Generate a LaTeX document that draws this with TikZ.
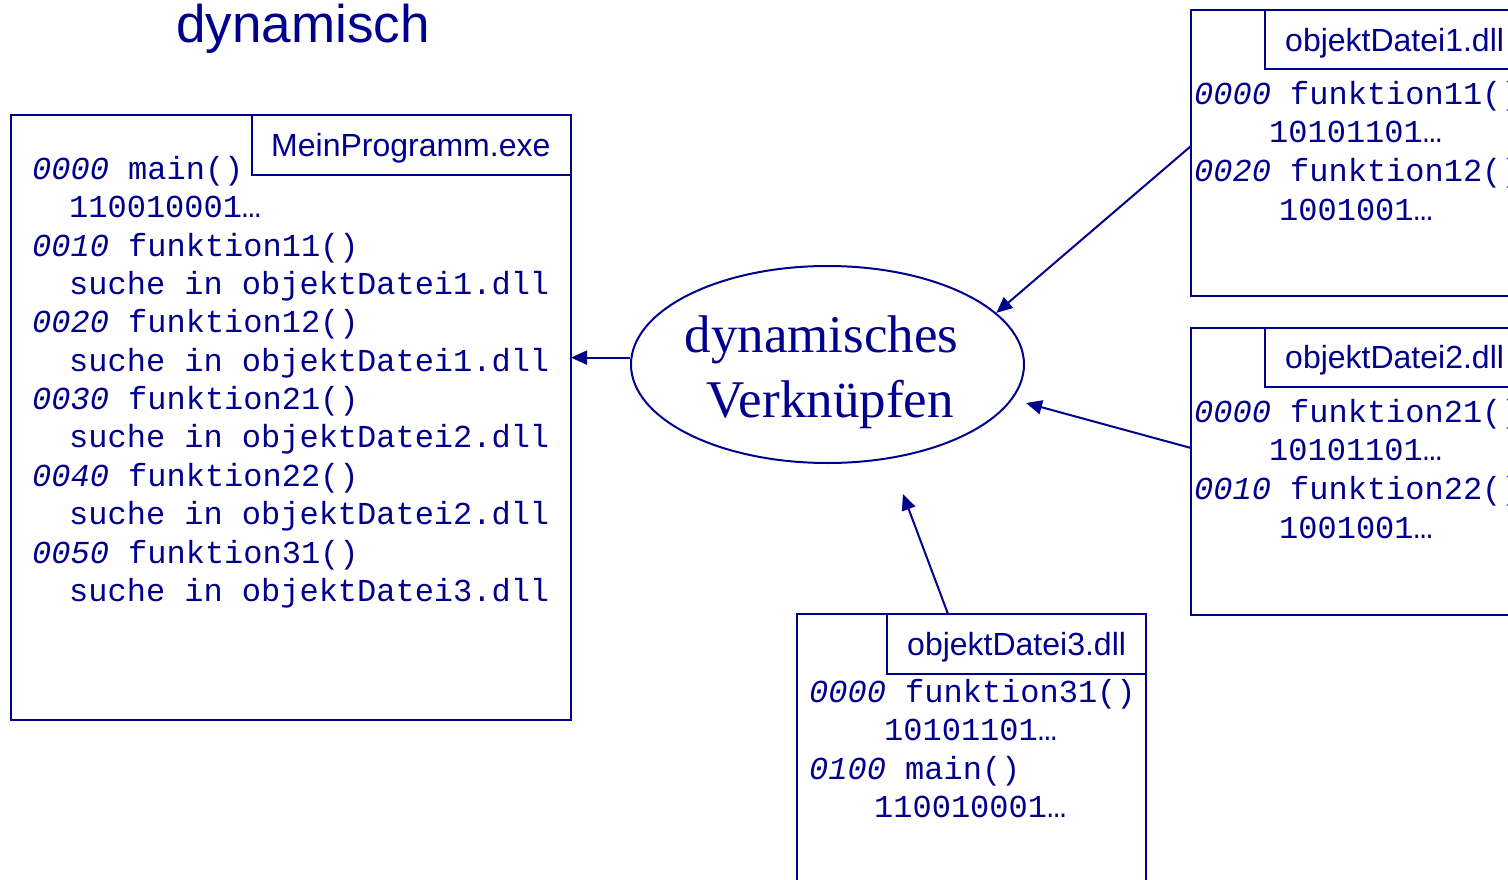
\documentclass[tikz,border=0pt]{standalone}
\usepackage{fontspec}
\setmainfont{Liberation Sans}
\newfontfamily\monof{Liberation Mono}
\newfontfamily\seriff{Liberation Serif}
\usetikzlibrary{arrows.meta,shapes.geometric}
\definecolor{navy}{RGB}{0,0,140}
\tikzset{
  boxn/.style={draw=navy, line width=2pt, rectangle, inner sep=0pt, outer sep=0pt},
  code/.style={anchor=base west, inner sep=0pt, text=navy, font=\monof\fontsize{32}{38.4}\selectfont},
  lbl/.style={anchor=base west, inner sep=0pt, text=navy, font=\fontsize{32}{38.4}\selectfont},
  ellt/.style={anchor=base, inner sep=0pt, text=navy, font=\seriff\fontsize{53}{65}\selectfont},
  arr/.style={draw=navy, line width=2pt, -{Triangle[length=16pt,width=14pt]}},
}
\newcommand{\adr}[1]{\textit{#1}}
\begin{document}
\begin{tikzpicture}[x=1pt,y=-1pt]
\useasboundingbox (0,0) rectangle (1508,880);
\clip (0,0) rectangle (1508,880);
% title
\node[anchor=base west, inner sep=0pt, text=navy, font=\fontsize{53}{60}\selectfont] (title) at (176,43) {dynamisch};
% main box
\node[boxn, minimum width=560pt, minimum height=605pt] (mainbox) at (291,417.5) {};
\node[boxn, minimum width=319pt, minimum height=60pt] (mainlbl) at (411.5,145) {};
\node[lbl] (mainlt) at (271,157) {MeinProgramm.exe};
\node[code] (m1) at (32,179) {\adr{0000} main()};
\node[code] (m2) at (69,217) {110010001…};
\node[code] (m3) at (32,256) {\adr{0010} funktion11()};
\node[code] (m4) at (69,294) {suche in objektDatei1.dll};
\node[code] (m5) at (32,332) {\adr{0020} funktion12()};
\node[code] (m6) at (69,371) {suche in objektDatei1.dll};
\node[code] (m7) at (32,409) {\adr{0030} funktion21()};
\node[code] (m8) at (69,447) {suche in objektDatei2.dll};
\node[code] (m9) at (32,486) {\adr{0040} funktion22()};
\node[code] (m10) at (69,524) {suche in objektDatei2.dll};
\node[code] (m11) at (32,563) {\adr{0050} funktion31()};
\node[code] (m12) at (69,601) {suche in objektDatei3.dll};
% dll1
\node[boxn, minimum width=339pt, minimum height=286pt] (dll1) at (1360.5,153) {};
\node[boxn, minimum width=265pt, minimum height=59pt] (dll1lbl) at (1397.5,39.5) {};
\node[lbl] (d1t) at (1285,52) {objektDatei1.dll};
\node[code] (a1) at (1194,105) {\adr{0000} funktion11()};
\node[code] (a2) at (1269,143) {10101101…};
\node[code] (a3) at (1194,182) {\adr{0020} funktion12()};
\node[code] (a4) at (1279,220) {1001001…};
% dll2
\node[boxn, minimum width=339pt, minimum height=287pt] (dll2) at (1360.5,471.5) {};
\node[boxn, minimum width=265pt, minimum height=59pt] (dll2lbl) at (1397.5,357.5) {};
\node[lbl] (d2t) at (1285,368) {objektDatei2.dll};
\node[code] (b1) at (1194,422) {\adr{0000} funktion21()};
\node[code] (b2) at (1269,460) {10101101…};
\node[code] (b3) at (1194,499) {\adr{0010} funktion22()};
\node[code] (b4) at (1279,538) {1001001…};
% dll3
\node[boxn, minimum width=349pt, minimum height=286pt] (dll3) at (971.5,757) {};
\node[boxn, minimum width=259pt, minimum height=60pt] (dll3lbl) at (1016.5,644) {};
\node[lbl] (d3t) at (907,655) {objektDatei3.dll};
\node[code] (c1) at (809,702) {\adr{0000} funktion31()};
\node[code] (c2) at (884,740) {10101101…};
\node[code] (c3) at (809,779) {\adr{0100} main()};
\node[code] (c4) at (874,817) {110010001…};
% ellipse
\node[ellipse, draw=navy, line width=2pt, minimum width=393pt, minimum height=197pt, inner sep=0pt] (ell) at (827.5,364.5) {};
\node[ellt] (e1) at (821.5,352) {dynamisches};
\node[ellt] (e2) at (830,417) {Verknüpfen};
% arrows
\coordinate (t3) at (1026,403);
\coordinate (t4) at (903,494);
\draw[arr] (ell.178.8) -- (ell.178.8 -| mainbox.east);
\draw[arr] ([yshift=7pt]dll1.west) -- (ell.17.4);
\draw[arr] ([yshift=23.5pt]dll2.west) -- (t3);
\draw[arr] ([xshift=-23.5pt]dll3.north) -- (t4);
\end{tikzpicture}
\end{document}
